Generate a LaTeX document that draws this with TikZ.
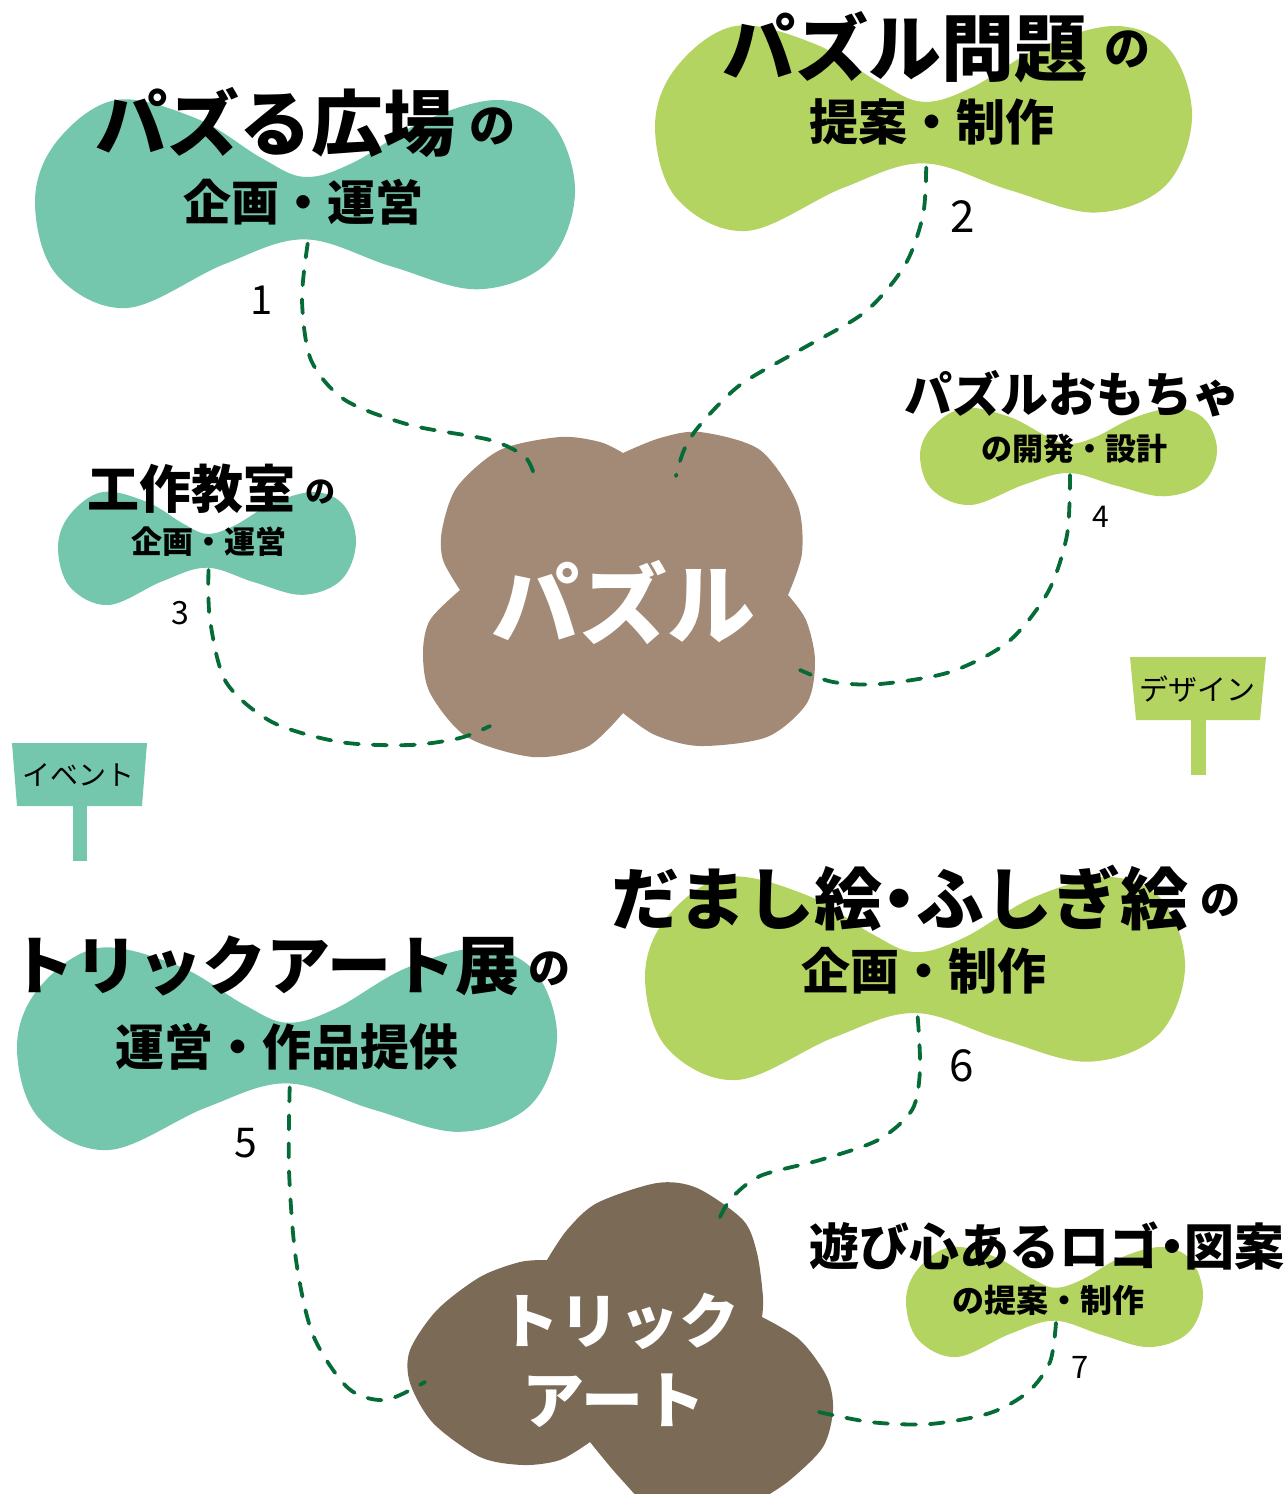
\documentclass[tikz,border=0pt]{standalone}
\usepackage{fontspec}
\setmainfont{Noto Sans CJK JP}
\definecolor{teal}{HTML}{74C6AC}
\definecolor{leaf}{HTML}{B4D461}
\definecolor{cloudA}{HTML}{A28A77}
\definecolor{cloudB}{HTML}{7A6A56}
\definecolor{dgreen}{HTML}{056B37}
\tikzset{
  conn/.style={draw=dgreen, line width=3.8pt, line cap=round, dash pattern=on 14pt off 14pt},
  ttl/.style={font=\bfseries\fontsize{#1pt}{#1pt}\selectfont, inner sep=0pt},
  plain/.style={font=\fontsize{#1pt}{#1pt}\selectfont, inner sep=0pt},
}
\newcommand\blobshape[6]{%
  \begin{scope}[shift={(#1,#2)},xscale=#3,yscale=#4]
    \fill[#5] plot[smooth cycle, tension=0.6] coordinates {(0,0.49) (0.04,0.2) (0.15,0) (0.3,0.09) (0.42,0.28) (0.5,0.37) (0.59,0.3) (0.72,0.1) (0.86,0) (0.96,0.12) (1,0.45) (0.95,0.78) (0.82,0.91) (0.66,0.8) (0.5,0.67) (0.35,0.79) (0.17,1) (0.04,0.84)};
    \coordinate (#6) at (0.505,0.69);
  \end{scope}}
\begin{document}
\begin{tikzpicture}[x=1pt,y=-1pt]
\useasboundingbox (0,0) rectangle (1287,1494);
% blobs
\blobshape{35}{100}{540}{208}{teal}{b1}
\blobshape{655}{26}{537}{205}{leaf}{b2}
\blobshape{58}{492}{298}{113}{teal}{b3}
\blobshape{920}{408}{297}{97}{leaf}{b4}
\blobshape{17}{948}{540}{202}{teal}{b5}
\blobshape{645}{877}{540}{203}{leaf}{b6}
\blobshape{906}{1247}{297}{110}{leaf}{b7}
% puzzle cloud
\fill[cloudA] plot[smooth] coordinates {(623,453) (660,438) (700,432) (760,450) (797,503) (802,553) (788,595)}
  -- plot[smooth] coordinates {(788,595) (806,620) (815,660) (807,703) (767,737) (700,746) (655,735) (623,713)}
  -- plot[smooth] coordinates {(623,713) (587,747) (533,757) (467,737) (430,693) (423,653) (430,620) (460,590)}
  -- plot[smooth] coordinates {(460,590) (443,560) (442,530) (457,487) (500,450) (560,437) (600,442) (623,453)} -- cycle;
% trick art cloud
\fill[cloudB] plot[smooth] coordinates {(547,1260) (567,1230) (597,1203) (657,1183) (697,1188) (743,1220) (757,1253) (763,1297) (762,1317)}
  -- plot[smooth] coordinates {(762,1317) (800,1340) (827,1377) (833,1410) (823,1447) (790,1480) (760,1500)}
  -- (640,1500)
  -- plot[smooth] coordinates {(640,1500) (613,1470) (590,1442)}
  -- plot[smooth] coordinates {(590,1442) (560,1460) (523,1465) (480,1457) (433,1423) (410,1383) (410,1350) (437,1310) (480,1277) (520,1262) (547,1260)} -- cycle;
% signs
\fill[teal] (12,743) -- (147,743) -- (142,806) -- (17,806) -- cycle;
\fill[teal] (73,806) rectangle (87,861);
\node[plain=28] (ev) at (78,775) {イベント};
\fill[leaf] (1130,657) -- (1266,657) -- (1260,720) -- (1136,720) -- cycle;
\fill[leaf] (1191,720) rectangle (1206,775);
\node[plain=29] (ds) at (1197,689) {デザイン};
% coordinates on clouds
\coordinate (p1) at (535,478);
\coordinate (p2) at (676,476);
\coordinate (p3) at (490,726);
\coordinate (p4) at (800,670);
\coordinate (p5) at (425,1382);
\coordinate (p6) at (716,1226);
\coordinate (p7) at (810,1410);
% connectors
\draw[conn] plot[smooth] coordinates {(b1) (302,300) (311,360) (345,400) (410,425) (490,440) (525,457) (p1)};
\draw[conn] plot[smooth] coordinates {(b2) (923,215) (905,265) (865,312) (800,350) (740,385) (700,425) (684,450) (p2)};
\draw[conn] plot[smooth] coordinates {(b3) (210,620) (226,682) (272,722) (340,742) (410,745) (460,738) (p3)};
\draw[conn] plot[smooth] coordinates {(b4) (1067,535) (1048,592) (1008,642) (950,672) (880,684) (833,682) (p4)};
\draw[conn] plot[smooth] coordinates {(b5) (289,1170) (296,1260) (313,1335) (348,1388) (385,1400) (p5)};
\draw[conn] plot[smooth] coordinates {(b6) (920,1070) (912,1110) (878,1140) (820,1160) (760,1176) (730,1200) (p6)};
\draw[conn] plot[smooth] coordinates {(b7) (1050,1362) (1028,1392) (990,1413) (930,1424) (870,1422) (p7)};
% titles
\node[ttl=72] (t1) at (275,122) {パズる広場};
\node[ttl=46] (t1n) at (492,126) {の};
\node[ttl=48] (s1) at (303,202) {企画・運営};
\node[ttl=73] (t2) at (905,47) {パズル問題};
\node[ttl=46] (t2n) at (1127,49) {の};
\node[ttl=49] (s2) at (932,122) {提案・制作};
\node[ttl=52] (t3) at (191,489) {工作教室};
\node[ttl=30] (t3n) at (320,492) {の};
\node[ttl=31] (s3) at (209,542) {企画・運営};
\node[ttl=48] (t4) at (1072,394) {パズルおもちゃ};
\node[ttl=31] (s4) at (1074,449) {の開発・設計};
\node[ttl=68] (t6) at (900,898) {だまし絵\kern-0.25em・\kern-0.25emふしぎ絵};
\node[ttl=40] (t6n) at (1220,900) {の};
\node[ttl=49] (s6) at (924,971) {企画・制作};
\node[ttl=64] (t5) at (265,966) {トリックアート展};
\node[ttl=42] (t5n) at (549,969) {の};
\node[ttl=49] (s5) at (287,1047) {運営・作品提供};
\node[ttl=50] (t7) at (1047,1246) {遊び心あるロゴ\kern-0.25em・\kern-0.25em図案};
\node[ttl=32] (s7) at (1048,1300) {の提案・制作};
% cloud labels
\node[ttl=88, text=white] (cz) at (623,603) {パズル};
\node[ttl=60, text=white] (ct1) at (619,1321) {トリック};
\node[ttl=62, text=white] (ct2) at (614,1401) {アート};
% numbers
\node[plain=40] (n1) at (262,300) {1};
\node[plain=44] (n2) at (963,217) {2};
\node[plain=32] (n3) at (180,613) {3};
\node[plain=30] (n4) at (1101,517) {4};
\node[plain=41] (n5) at (246,1143) {5};
\node[plain=44] (n6) at (962,1066) {6};
\node[plain=31] (n7) at (1080,1367) {7};
\end{tikzpicture}
\end{document}
